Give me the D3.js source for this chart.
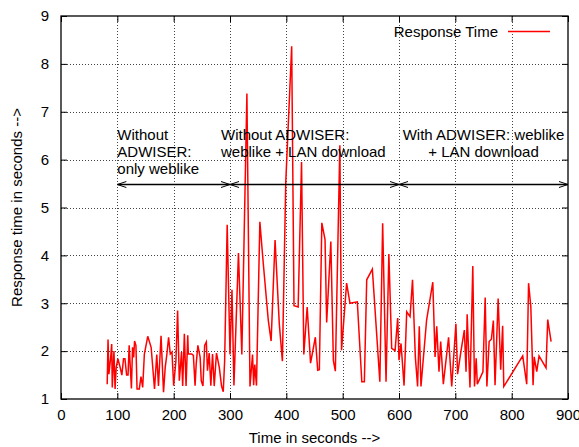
<!DOCTYPE html>
<html>
<head>
<meta charset="utf-8">
<script src="https://cdn.jsdelivr.net/npm/d3@7"></script>
<style>
  body { margin: 0; background: #fff; }
  svg text { font-family: "Liberation Sans", Arial, Helvetica, sans-serif; fill: #000; }
</style>
</head>
<body>
<div id="app"></div>
<script>
// measured response times (seconds since start, response time in s)
const timeSec = [
  82, 83.5, 85, 88, 90, 91, 94, 96, 98, 101, 105, 108, 111, 113.5, 116.5, 119, 121, 125, 127, 129,
  130.6, 133, 135, 139, 142, 145, 148, 154, 160, 166, 170, 173, 177.6, 182, 185, 188, 191, 194, 197, 200,
  204, 207, 210, 214, 216, 219, 222, 225, 226, 232, 235, 238, 240, 243, 247, 249, 252, 255, 258, 260,
  263, 266, 269, 272, 276, 281, 285, 288, 290.5, 295, 300, 303.5, 307, 315, 321, 330, 335.5, 340, 342, 344,
  347, 353, 359, 368, 373, 380, 387.5, 393, 399, 409.5, 413.6, 421, 427, 431, 437, 443, 451.5, 455.7, 458.6, 463,
  468.7, 471.6, 479, 483.5, 487, 495, 498, 507, 513, 526, 534, 538.5, 542.7, 552.7, 566, 571, 577, 582, 587, 593,
  597.7, 600, 603.6, 609, 613.7, 619.6, 624, 629, 633, 636, 639, 649, 660, 664, 667, 671, 674, 678.7, 688, 693.6,
  701, 704, 710, 716, 719, 721, 726, 731, 734, 737, 739, 749, 753, 756, 760, 764, 767.5, 770.5, 776, 780.5,
  784, 786, 819.6, 826.7, 830, 834, 838, 840, 844.5, 848.6, 861, 864, 870
];
const respTime = [
  1.31, 2.24, 1.52, 1.84, 2.15, 1.24, 2.0, 1.21, 1.66, 1.84, 1.66, 1.5, 1.84, 1.84, 1.5, 1.5, 2.12, 1.22, 2.08, 1.87,
  2.21, 2.12, 1.21, 1.21, 1.47, 1.24, 1.94, 2.31, 2.08, 1.21, 1.93, 1.27, 2.32, 1.14, 1.66, 1.94, 2.29, 1.94, 1.98, 1.28,
  1.8, 2.85, 1.38, 1.98, 1.27, 2.36, 1.27, 2.33, 1.94, 1.94, 1.91, 1.28, 1.73, 2.12, 1.87, 1.38, 1.27, 2.12, 2.19, 1.59,
  1.96, 1.28, 1.94, 1.27, 1.96, 1.66, 1.27, 1.15, 1.8, 4.64, 1.93, 3.28, 1.28, 4.05, 1.93, 7.38, 1.26, 1.93, 1.29, 1.72,
  1.28, 4.7, 3.84, 2.64, 2.21, 4.32, 2.57, 1.79, 5.53, 8.37, 2.95, 2.92, 5.95, 1.93, 2.92, 1.75, 2.29, 1.6, 1.61, 4.68,
  4.33, 2.6, 4.29, 1.8, 1.58, 6.3, 2.02, 3.42, 3.0, 3.03, 1.36, 1.36, 3.49, 3.71, 1.36, 4.67, 1.36, 4.03, 2.06, 2.01,
  2.69, 1.81, 2.16, 1.28, 2.82, 2.72, 3.49, 1.88, 1.26, 2.52, 1.26, 2.65, 3.44, 1.88, 2.52, 1.57, 2.2, 1.31, 2.29, 1.26,
  2.57, 1.52, 2.0, 2.44, 1.57, 2.77, 1.24, 3.78, 1.26, 1.85, 1.31, 1.57, 3.12, 1.26, 2.2, 2.25, 2.64, 1.29, 3.1, 1.61,
  2.53, 1.26, 1.9, 1.31, 3.42, 2.93, 1.29, 1.88, 1.57, 1.9, 1.65, 2.66, 2.2
];

const xTicks = [0, 100, 200, 300, 400, 500, 600, 700, 800, 900];
const yTicks = [1, 2, 3, 4, 5, 6, 7, 8, 9];

// phase labels and the arrows spanning each phase
const phaseLabels = [
  { x: 100, lines: ['Without', 'ADWISER:', 'only weblike'], anchor: 'start' },
  { x: 284, lines: ['Without ADWISER:', 'weblike + LAN download'], anchor: 'start' },
  { x: 750, lines: ['With ADWISER: weblike', '+ LAN download'], anchor: 'middle' }
];
const phaseSpans = [[100, 300], [300, 600], [600, 900]];
const arrowLevel = 5.5;

const width = 579;
const height = 447;
const mLeft = 61, mRight = 568, mTop = 16, mBottom = 399;
const fontSize = '15px';

const svg = d3.select('#app')
  .append('svg')
  .attr('width', width)
  .attr('height', height);

const x = d3.scaleLinear().domain([0, 900]).range([mLeft, mRight]);
const y = d3.scaleLinear().domain([1, 9]).range([mBottom, mTop]);

// dotted grid
const grid = svg.append('g')
  .attr('stroke', '#444')
  .attr('stroke-width', 1)
  .attr('stroke-dasharray', '1,2');
grid.selectAll('.gx')
  .data(xTicks.slice(1, -1))
  .enter().append('line')
  .attr('x1', d => Math.round(x(d)) + 0.5).attr('x2', d => Math.round(x(d)) + 0.5)
  .attr('y1', mTop).attr('y2', mBottom);
grid.selectAll('.gy')
  .data(yTicks.slice(1, -1))
  .enter().append('line')
  .attr('y1', d => Math.round(y(d)) + 0.5).attr('y2', d => Math.round(y(d)) + 0.5)
  .attr('x1', mLeft).attr('x2', mRight);

// axes with inward ticks on all four sides
const axisB = d3.axisBottom(x).tickValues(xTicks).tickSizeInner(-6).tickSizeOuter(0).tickPadding(10);
const axisT = d3.axisTop(x).tickValues(xTicks).tickSizeInner(-6).tickSizeOuter(0).tickFormat('');
const axisL = d3.axisLeft(y).tickValues(yTicks).tickSizeInner(-6).tickSizeOuter(0).tickPadding(12);
const axisR = d3.axisRight(y).tickValues(yTicks).tickSizeInner(-6).tickSizeOuter(0).tickFormat('');

svg.append('g').attr('transform', `translate(0,${mBottom})`).call(axisB);
svg.append('g').attr('transform', `translate(0,${mTop})`).call(axisT);
svg.append('g').attr('transform', `translate(${mLeft},0)`).call(axisL);
svg.append('g').attr('transform', `translate(${mRight},0)`).call(axisR);

svg.selectAll('.domain').remove();
svg.selectAll('.tick line').attr('stroke', '#000');
svg.selectAll('.tick text')
  .style('font-size', fontSize)
  .style('font-family', '"Liberation Sans", Arial, sans-serif');

// border
svg.append('rect')
  .attr('x', mLeft).attr('y', mTop)
  .attr('width', mRight - mLeft).attr('height', mBottom - mTop)
  .attr('fill', 'none')
  .attr('stroke', '#000')
  .attr('stroke-width', 1.3);

// axis titles
svg.append('text')
  .attr('x', (mLeft + mRight) / 2)
  .attr('y', 443)
  .attr('text-anchor', 'middle')
  .style('font-size', fontSize)
  .text('Time in seconds -->');

svg.append('text')
  .attr('transform', `translate(22,${(mTop + mBottom) / 2}) rotate(-90)`)
  .attr('text-anchor', 'middle')
  .style('font-size', fontSize)
  .text('Response time in seconds -->');

// response time line
const line = d3.line()
  .x((d, i) => x(timeSec[i]))
  .y(d => y(d));

svg.append('path')
  .datum(respTime)
  .attr('d', line)
  .attr('fill', 'none')
  .attr('stroke', '#f00')
  .attr('stroke-width', 1.5)
  .attr('stroke-linejoin', 'miter');

// phase labels
phaseLabels.forEach(p => {
  const t = svg.append('text')
    .attr('x', x(p.x))
    .attr('y', y(6.41))
    .attr('text-anchor', p.anchor)
    .style('font-size', fontSize);
  p.lines.forEach((s, i) => {
    t.append('tspan')
      .attr('x', x(p.x))
      .attr('dy', i === 0 ? 0 : 17)
      .text(s);
  });
});

// double headed arrows
const headLen = 9, headHalf = 3;
phaseSpans.forEach(([a, b]) => {
  const x1 = x(a), x2 = x(b), yy = Math.round(y(arrowLevel)) + 0.5;
  svg.append('line')
    .attr('x1', x1).attr('x2', x2)
    .attr('y1', yy).attr('y2', yy)
    .attr('stroke', '#000').attr('stroke-width', 1.3);
  svg.append('path')
    .attr('d', `M${x1 + headLen},${yy - headHalf}L${x1},${yy}L${x1 + headLen},${yy + headHalf}`)
    .attr('fill', 'none').attr('stroke', '#000').attr('stroke-width', 1);
  svg.append('path')
    .attr('d', `M${x2 - headLen},${yy - headHalf}L${x2},${yy}L${x2 - headLen},${yy + headHalf}`)
    .attr('fill', 'none').attr('stroke', '#000').attr('stroke-width', 1);
});

// key
svg.append('text')
  .attr('x', 498)
  .attr('y', 37)
  .attr('text-anchor', 'end')
  .style('font-size', fontSize)
  .text('Response Time');
svg.append('line')
  .attr('x1', 508).attr('x2', 550)
  .attr('y1', 31.5).attr('y2', 31.5)
  .attr('stroke', '#f00')
  .attr('stroke-width', 1.5);
</script>
</body>
</html>
